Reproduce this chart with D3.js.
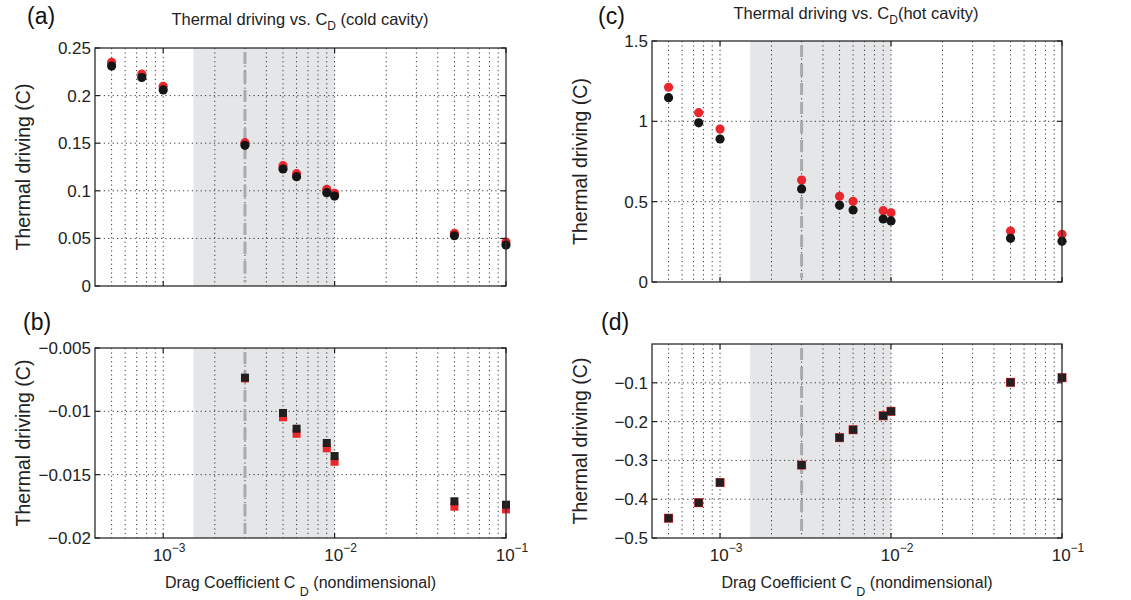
<!DOCTYPE html>
<html>
<head>
<meta charset="utf-8">
<script src="https://cdn.jsdelivr.net/npm/d3@7"></script>
<style>
  body { margin: 0; background: #fff; }
  svg { display: block; font-family: "Liberation Sans", Arial, Helvetica, sans-serif; }
</style>
</head>
<body>
<svg id="fig" width="1131" height="600"></svg>
<script>
// Drag coefficient values used in the model runs
const cdAll = [5e-4, 7.5e-4, 1e-3, 3e-3, 5e-3, 6e-3, 9e-3, 1e-2, 5e-2, 1e-1];
const cdB = [3e-3, 5e-3, 6e-3, 9e-3, 1e-2, 5e-2, 1e-1];

// (a) cold cavity, positive thermal driving
const coldPosRed   = [0.235, 0.2227, 0.2098, 0.1505, 0.1264, 0.118, 0.1016, 0.0974, 0.0553, 0.0462];
const coldPosBlack = [0.231, 0.219, 0.206, 0.1478, 0.1229, 0.1148, 0.098, 0.0945, 0.0528, 0.043];

// (b) cold cavity, negative thermal driving
const coldNegRed   = [-0.0074, -0.01047, -0.01177, -0.01292, -0.01398, -0.01753, -0.01774];
const coldNegBlack = [-0.00734, -0.01013, -0.01137, -0.0125, -0.01353, -0.0171, -0.01737];

// (c) hot cavity, positive thermal driving
const hotPosRed   = [1.212, 1.054, 0.952, 0.635, 0.533, 0.502, 0.444, 0.431, 0.317, 0.297];
const hotPosBlack = [1.147, 0.991, 0.890, 0.579, 0.477, 0.448, 0.392, 0.380, 0.272, 0.253];

// (d) hot cavity, negative thermal driving
const hotNegRed   = [-0.449, -0.409, -0.357, -0.312, -0.2414, -0.221, -0.185, -0.1735, -0.0988, -0.0868];
const hotNegBlack = [-0.449, -0.409, -0.357, -0.312, -0.2414, -0.221, -0.185, -0.1735, -0.0988, -0.0868];

// Axis ticks
const xDomain = [4e-4, 0.1];
const xMajor = [1e-3, 1e-2, 1e-1];
const xMajorExp = ["\u22123", "\u22122", "\u22121"];
const yTicksA = [0, 0.05, 0.1, 0.15, 0.2, 0.25];
const yLabelsA = ["0", "0.05", "0.1", "0.15", "0.2", "0.25"];
const yTicksB = [-0.02, -0.015, -0.01, -0.005];
const yLabelsB = ["\u22120.02", "\u22120.015", "\u22120.01", "\u22120.005"];
const yTicksC = [0, 0.5, 1, 1.5];
const yLabelsC = ["0", "0.5", "1", "1.5"];
const yTicksD = [-0.5, -0.4, -0.3, -0.2, -0.1];
const yLabelsD = ["\u22120.5", "\u22120.4", "\u22120.3", "\u22120.2", "\u22120.1"];

// Shaded range of plausible drag coefficients, and the reference value
const shadeRange = [1.5e-3, 1e-2];
const refCd = 3e-3;

const svg = d3.select("#fig");

function panel(opt) {
  const x = d3.scaleLog().domain(xDomain).range([opt.left, opt.right]);
  const y = d3.scaleLinear().domain(opt.yDomain).range([opt.bottom, opt.top]);
  const g = svg.append("g");

  // shaded band
  g.append("rect")
    .attr("x", x(shadeRange[0])).attr("y", opt.top)
    .attr("width", x(shadeRange[1]) - x(shadeRange[0]))
    .attr("height", opt.bottom - opt.top)
    .attr("fill", "#e5e6e8");

  // vertical grid at every log tick (majors and minors)
  const logTicks = x.ticks().filter(v => v > xDomain[0] * 1.0001 && v < xDomain[1] * 0.9999);
  g.selectAll(".vg").data(logTicks).enter().append("line")
    .attr("x1", d => x(d)).attr("x2", d => x(d))
    .attr("y1", opt.top).attr("y2", opt.bottom)
    .attr("stroke", "#222").attr("stroke-width", 0.9)
    .attr("stroke-dasharray", "1.2,3.2");

  // horizontal grid at interior y ticks
  const yd = opt.yDomain;
  g.selectAll(".hg").data(opt.yTicks.filter(v => v > Math.min(...yd) + 1e-9 && v < Math.max(...yd) - 1e-9))
    .enter().append("line")
    .attr("x1", opt.left).attr("x2", opt.right)
    .attr("y1", d => y(d)).attr("y2", d => y(d))
    .attr("stroke", "#222").attr("stroke-width", 0.9)
    .attr("stroke-dasharray", "1.2,3.2");

  // reference drag coefficient line
  g.append("line")
    .attr("x1", x(refCd)).attr("x2", x(refCd))
    .attr("y1", opt.top + 4).attr("y2", opt.bottom - 4)
    .attr("stroke", "#a9aaac").attr("stroke-width", 3)
    .attr("stroke-dasharray", "12,7");

  // data markers: red series beneath, black series on top
  const xs = opt.xs;
  if (opt.shape === "circle") {
    g.selectAll(".r").data(opt.red).enter().append("circle")
      .attr("cx", (d, i) => x(xs[i])).attr("cy", d => y(d)).attr("r", 4.6)
      .attr("fill", "#e8262b");
    g.selectAll(".k").data(opt.black).enter().append("circle")
      .attr("cx", (d, i) => x(xs[i])).attr("cy", d => y(d)).attr("r", 4.6)
      .attr("fill", "#151515");
  } else {
    const sr = opt.redSize, sk = 8;
    g.selectAll(".r").data(opt.red).enter().append("rect")
      .attr("x", (d, i) => x(xs[i]) - sr / 2).attr("y", d => y(d) - sr / 2)
      .attr("width", sr).attr("height", sr)
      .attr("fill", "#e8262b");
    g.selectAll(".k").data(opt.black).enter().append("rect")
      .attr("x", (d, i) => x(xs[i]) - sk / 2).attr("y", d => y(d) - sk / 2)
      .attr("width", sk).attr("height", sk)
      .attr("fill", "#231f20");
  }

  // box frame
  g.append("rect")
    .attr("x", opt.left).attr("y", opt.top)
    .attr("width", opt.right - opt.left).attr("height", opt.bottom - opt.top)
    .attr("fill", "none").attr("stroke", "#2b2b2b").attr("stroke-width", 1.3);

  // inward tick marks
  xMajor.forEach(v => {
    [[opt.bottom, -5], [opt.top, 5]].forEach(([yy, dl]) => {
      g.append("line").attr("x1", x(v)).attr("x2", x(v))
        .attr("y1", yy).attr("y2", yy + dl)
        .attr("stroke", "#222").attr("stroke-width", 1.2);
    });
  });
  opt.yTicks.forEach(v => {
    [[opt.left, 5], [opt.right, -5]].forEach(([xx, dl]) => {
      g.append("line").attr("x1", xx).attr("x2", xx + dl)
        .attr("y1", y(v)).attr("y2", y(v))
        .attr("stroke", "#222").attr("stroke-width", 1.2);
    });
  });

  // y tick labels
  g.selectAll(".yl").data(opt.yTicks).enter().append("text")
    .attr("x", opt.left - 4).attr("y", d => y(d) + 6)
    .attr("text-anchor", "end").attr("font-size", 17).attr("fill", "#222")
    .text((d, i) => opt.yLabels[i]);

  // x tick labels
  if (opt.xLabels) {
    xMajor.forEach((v, i) => {
      const t = g.append("text").attr("x", x(v) + 6).attr("y", 561)
        .attr("text-anchor", "middle").attr("font-size", 17).attr("fill", "#222");
      t.append("tspan").text("10");
      t.append("tspan").attr("dy", -9).attr("font-size", 12).text(xMajorExp[i]);
    });
    const t = g.append("text").attr("x", (opt.left + opt.right) / 2).attr("y", 588)
      .attr("text-anchor", "middle").attr("font-size", 16).attr("fill", "#222");
    t.append("tspan").text("Drag Coefficient C ");
    t.append("tspan").attr("dy", 8).attr("font-size", 12.5).text("D");
    t.append("tspan").attr("dy", -8).text(" (nondimensional)");
  }

  // y axis title
  g.append("text")
    .attr("transform", `translate(${opt.left - 65},${(opt.top + opt.bottom) / 2}) rotate(-90)`)
    .attr("text-anchor", "middle").attr("font-size", 19.5).attr("fill", "#222")
    .text("Thermal driving (C)");

  // panel letter
  g.append("text").attr("x", opt.letterX).attr("y", opt.letterY)
    .attr("font-size", 23).attr("fill", "#111").text(opt.letter);

  // panel title
  if (opt.title) {
    const t = g.append("text").attr("x", opt.titleX).attr("y", opt.titleY)
      .attr("text-anchor", "middle").attr("font-size", 16.5).attr("fill", "#222");
    t.append("tspan").text("Thermal driving vs. C");
    t.append("tspan").attr("dy", 5).attr("font-size", 12).text("D");
    t.append("tspan").attr("dy", -5).text(opt.title);
  }
}

panel({
  left: 95, right: 506, top: 48, bottom: 286,
  yDomain: [0, 0.25], yTicks: yTicksA, yLabels: yLabelsA,
  xs: cdAll, red: coldPosRed, black: coldPosBlack, shape: "circle",
  letter: "(a)", letterX: 27, letterY: 24,
  title: " (cold cavity)", titleX: 300, titleY: 25
});
panel({
  left: 95, right: 506, top: 348, bottom: 538,
  yDomain: [-0.02, -0.005], yTicks: yTicksB, yLabels: yLabelsB,
  xs: cdB, red: coldNegRed, black: coldNegBlack, shape: "square", redSize: 8,
  letter: "(b)", letterX: 23, letterY: 330, xLabels: true
});
panel({
  left: 652, right: 1062, top: 41, bottom: 282,
  yDomain: [0, 1.5], yTicks: yTicksC, yLabels: yLabelsC,
  xs: cdAll, red: hotPosRed, black: hotPosBlack, shape: "circle",
  letter: "(c)", letterX: 598, letterY: 24,
  title: "(hot cavity)", titleX: 856, titleY: 19
});
panel({
  left: 652, right: 1062, top: 344, bottom: 538,
  yDomain: [-0.5, 0], yTicks: yTicksD, yLabels: yLabelsD,
  xs: cdAll, red: hotNegRed, black: hotNegBlack, shape: "square", redSize: 9,
  letter: "(d)", letterX: 601, letterY: 330, xLabels: true
});
</script>
</body>
</html>
